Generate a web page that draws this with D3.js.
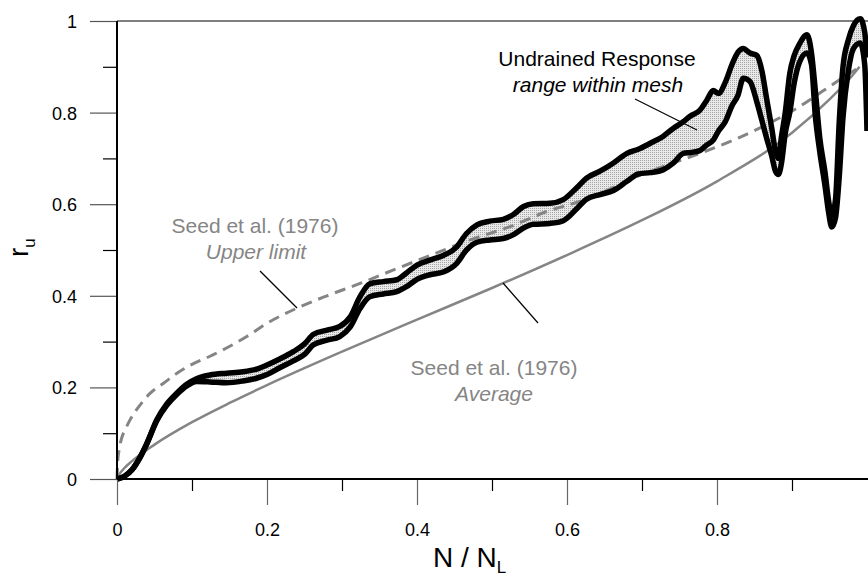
<!DOCTYPE html>
<html>
<head>
<meta charset="utf-8">
<script src="https://cdn.jsdelivr.net/npm/d3@7"></script>
<style>
  html, body { margin: 0; padding: 0; background: #fff; }
  svg { display: block; font-family: "Liberation Sans", Arial, Helvetica, sans-serif; }
  .tick text { font-size: 18px; fill: #000; }
  .note { font-size: 21px; }
</style>
</head>
<body>
<svg id="chart" width="868" height="579"></svg>
<script>
// values (N / N_L  vs  r_u)
const bandN = [0, 0.010, 0.020, 0.030, 0.040, 0.053, 0.066, 0.080, 0.093, 0.106, 0.124, 0.146, 0.168, 0.186,
  0.200, 0.217, 0.235, 0.250, 0.262, 0.280, 0.297, 0.311, 0.324, 0.337, 0.355, 0.373, 0.386, 0.400, 0.417,
  0.435, 0.453, 0.466, 0.480, 0.497, 0.515, 0.528, 0.542, 0.555, 0.577, 0.595, 0.613, 0.626, 0.644, 0.662,
  0.680, 0.695, 0.711, 0.728, 0.742, 0.755, 0.765, 0.777, 0.786, 0.795, 0.802, 0.811, 0.820, 0.828, 0.835,
  0.844, 0.853, 0.860, 0.866, 0.873, 0.878, 0.882, 0.886, 0.891, 0.897, 0.903, 0.910, 0.920, 0.926, 0.931,
  0.937, 0.944, 0.949, 0.953, 0.958, 0.963, 0.968, 0.975, 0.982, 0.991, 0.997, 1.000];
const bandUpper = [0, 0.006, 0.020, 0.045, 0.078, 0.129, 0.163, 0.188, 0.207, 0.219, 0.227, 0.231, 0.234, 0.240,
  0.249, 0.262, 0.278, 0.295, 0.316, 0.325, 0.333, 0.354, 0.398, 0.426, 0.431, 0.435, 0.450, 0.467, 0.478,
  0.488, 0.507, 0.536, 0.555, 0.563, 0.567, 0.577, 0.595, 0.601, 0.602, 0.610, 0.636, 0.657, 0.672, 0.690,
  0.711, 0.720, 0.733, 0.748, 0.766, 0.780, 0.793, 0.805, 0.826, 0.848, 0.842, 0.866, 0.905, 0.932, 0.940,
  0.930, 0.925, 0.890, 0.832, 0.766, 0.715, 0.700, 0.748, 0.800, 0.885, 0.925, 0.950, 0.970, 0.930, 0.850,
  0.745, 0.670, 0.605, 0.575, 0.610, 0.780, 0.900, 0.958, 0.990, 1.005, 0.975, 0.920];
const bandLower = [0, 0.006, 0.020, 0.045, 0.078, 0.127, 0.160, 0.185, 0.203, 0.213, 0.212, 0.210, 0.214, 0.220,
  0.228, 0.243, 0.258, 0.272, 0.293, 0.303, 0.311, 0.332, 0.372, 0.398, 0.404, 0.409, 0.420, 0.436, 0.446,
  0.452, 0.471, 0.500, 0.517, 0.522, 0.525, 0.533, 0.548, 0.556, 0.558, 0.564, 0.590, 0.611, 0.621, 0.630,
  0.650, 0.666, 0.669, 0.675, 0.690, 0.711, 0.713, 0.717, 0.729, 0.740, 0.760, 0.780, 0.815, 0.838, 0.875,
  0.868, 0.824, 0.782, 0.745, 0.705, 0.672, 0.665, 0.690, 0.755, 0.800, 0.865, 0.910, 0.930, 0.905, 0.795,
  0.715, 0.640, 0.580, 0.550, 0.570, 0.660, 0.790, 0.890, 0.940, 0.952, 0.904, 0.760];

const avgN = [0, 0.003, 0.010, 0.020, 0.050, 0.100, 0.150, 0.200, 0.300, 0.400, 0.500, 0.600, 0.700, 0.800,
  0.900, 0.950, 0.980, 0.990];
const avgR = [0, 0.010, 0.024, 0.039, 0.075, 0.124, 0.166, 0.205, 0.278, 0.348, 0.417, 0.489, 0.565, 0.650,
  0.756, 0.829, 0.880, 0.900];

const upperN = [0, 0.001, 0.003, 0.006, 0.011, 0.017, 0.031, 0.044, 0.062, 0.080, 0.102, 0.124, 0.146, 0.173,
  0.200, 0.240, 0.280, 0.324, 0.368, 0.422, 0.471, 0.524, 0.573, 0.626, 0.700, 0.777, 0.822, 0.871, 0.906,
  0.942, 0.964, 0.991];
const upperR = [0, 0.040, 0.065, 0.088, 0.108, 0.128, 0.162, 0.187, 0.209, 0.231, 0.252, 0.268, 0.286, 0.311,
  0.340, 0.373, 0.400, 0.427, 0.456, 0.491, 0.522, 0.551, 0.584, 0.611, 0.665, 0.711, 0.740, 0.778, 0.809,
  0.848, 0.872, 0.900];

const xMajor = [0, 0.2, 0.4, 0.6, 0.8];
const xMinor = [0.1, 0.3, 0.5, 0.7, 0.9];
const yMajor = [0, 0.2, 0.4, 0.6, 0.8, 1];
const yMinor = [0.1, 0.3, 0.5, 0.7, 0.9];

const svg = d3.select('#chart');
const L = 117, T = 21, R = 867, B = 479;
const x = d3.scaleLinear().domain([0, 1]).range([L, R]);
const y = d3.scaleLinear().domain([0, 1]).range([B, T]);
const GRAY = '#858585';

// stipple for the band fill
const defs = svg.append('defs');
const pat = defs.append('pattern').attr('id', 'stip').attr('width', 2).attr('height', 2)
  .attr('patternUnits', 'userSpaceOnUse');
pat.append('rect').attr('width', 2).attr('height', 2).attr('fill', '#e9e9e9');
pat.append('rect').attr('width', 1).attr('height', 1).attr('fill', '#a6a6a6');

const band = bandN.map((n, i) => ({ n, hi: bandUpper[i], lo: bandLower[i] }));

svg.append('path').datum(band)
  .attr('fill', 'url(#stip)')
  .attr('d', d3.area().curve(d3.curveMonotoneX).x(d => x(d.n)).y0(d => y(d.lo)).y1(d => y(d.hi)));

// Seed et al. (1976) curves
svg.append('path').datum(avgN.map((n, i) => [n, avgR[i]]))
  .attr('fill', 'none').attr('stroke', GRAY).attr('stroke-width', 2.5)
  .attr('d', d3.line().curve(d3.curveMonotoneX).x(d => x(d[0])).y(d => y(d[1])));
svg.append('path').datum(upperN.map((n, i) => [n, upperR[i]]))
  .attr('fill', 'none').attr('stroke', GRAY).attr('stroke-width', 3).attr('stroke-dasharray', '11,7')
  .attr('d', d3.line().curve(d3.curveMonotoneX).x(d => x(d[0])).y(d => y(d[1])));

// band edges
['hi', 'lo'].forEach(k => {
  svg.append('path').datum(band)
    .attr('fill', 'none').attr('stroke', '#000').attr('stroke-width', 5.5).attr('stroke-linejoin', 'round')
    .attr('d', d3.line().curve(d3.curveMonotoneX).x(d => x(d.n)).y(d => y(d[k])));
});

// axes
const xAx = svg.append('g').attr('transform', `translate(0,${B})`)
  .call(d3.axisBottom(x).tickValues(xMajor).tickSize(26).tickPadding(18).tickFormat(d => String(d)));
xAx.select('.domain').remove();
xAx.selectAll('.tick line').attr('stroke', '#666').attr('stroke-width', 1.2);
svg.append('g').attr('transform', `translate(0,${B})`)
  .call(d3.axisBottom(x).tickValues(xMinor).tickSize(12).tickFormat(''))
  .call(g => g.select('.domain').remove())
  .selectAll('.tick line').attr('stroke', '#000').attr('stroke-width', 1.2);

const yAx = svg.append('g').attr('transform', `translate(${L},0)`)
  .call(d3.axisLeft(y).tickValues(yMajor).tickSize(27).tickPadding(13).tickFormat(d => String(d)));
yAx.select('.domain').remove();
yAx.selectAll('.tick line').attr('stroke', '#555').attr('stroke-width', 1.2);
yAx.selectAll('.tick text').attr('dy', '0.36em');
svg.append('g').attr('transform', `translate(${L},0)`)
  .call(d3.axisLeft(y).tickValues(yMinor).tickSize(14).tickFormat(''))
  .call(g => g.select('.domain').remove())
  .selectAll('.tick line').attr('stroke', '#000').attr('stroke-width', 1.2);

// frame
svg.append('line').attr('x1', L).attr('x2', 868).attr('y1', T).attr('y2', T).attr('stroke', '#000').attr('stroke-width', 1.2);
svg.append('line').attr('x1', L).attr('x2', 868).attr('y1', B).attr('y2', B).attr('stroke', '#000').attr('stroke-width', 2);
svg.append('line').attr('x1', L).attr('x2', L).attr('y1', T).attr('y2', B).attr('stroke', '#000').attr('stroke-width', 2);

// axis titles
const xt = svg.append('text').attr('x', 433).attr('y', 567).attr('font-size', 28);
xt.append('tspan').text('N / N');
xt.append('tspan').attr('font-size', 17).attr('dy', 6).text('L');
const yt = svg.append('text').attr('transform', 'translate(28,257) rotate(-90)').attr('font-size', 28);
yt.append('tspan').text('r');
yt.append('tspan').attr('font-size', 17).attr('dy', 7).text('u');

// annotations
function note(tx, ty, txt, color, italic) {
  svg.append('text').attr('class', 'note').attr('x', tx).attr('y', ty).attr('text-anchor', 'middle')
    .attr('fill', color).attr('font-style', italic ? 'italic' : 'normal').text(txt);
}
function leader(x1, y1, x2, y2) {
  svg.append('line').attr('x1', x1).attr('y1', y1).attr('x2', x2).attr('y2', y2)
    .attr('stroke', '#000').attr('stroke-width', 1.2);
}
note(255, 233, 'Seed et al. (1976)', GRAY, false);
note(256, 259, 'Upper limit', GRAY, true);
leader(260, 271, 297, 308);

note(494, 375, 'Seed et al. (1976)', GRAY, false);
note(494, 401, 'Average', GRAY, true);
leader(503, 283, 538, 323);

note(597, 66, 'Undrained Response', '#000', false);
note(598, 92, 'range within mesh', '#000', true);
leader(635, 99, 697, 130);
</script>
</body>
</html>
